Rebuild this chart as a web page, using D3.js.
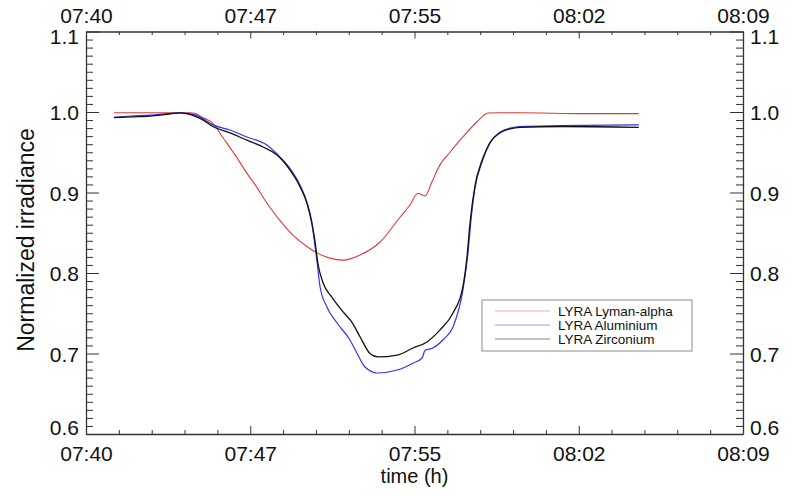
<!DOCTYPE html>
<html>
<head>
<meta charset="utf-8">
<script src="https://cdn.jsdelivr.net/npm/d3@7"></script>
<style>
  html, body { margin: 0; padding: 0; background: #fff; }
  svg { display: block; font-family: "Liberation Sans", Arial, Helvetica, sans-serif; }
</style>
</head>
<body>
<svg id="chart" width="792" height="496"></svg>
<script>
// LYRA normalized irradiance during the eclipse pass (UTC)
const lymanTimes = ["07:41:14","07:43:00","07:44:35","07:44:49","07:45:10","07:45:36","07:46:03","07:46:40","07:47:06","07:47:33","07:47:59","07:48:34","07:49:08","07:49:45","07:50:12","07:50:46","07:51:21","07:52:06","07:52:59","07:53:52","07:54:18","07:54:39","07:54:50","07:54:58","07:55:16","07:55:37","07:56:04","07:56:38","07:57:15","07:57:45","07:58:16","07:59:09","08:02:00","08:04:24"];
const lymanValues = [0.999,0.999,0.999,0.998,0.993,0.986,0.968,0.943,0.924,0.906,0.887,0.865,0.847,0.833,0.825,0.8185,0.816,0.8224,0.8385,0.8696,0.8845,0.899,0.897,0.8957,0.913,0.934,0.950,0.969,0.9876,0.9988,0.999,0.999,0.998,0.998];

const aluTimes = ["07:41:14","07:42:00","07:42:50","07:43:35","07:44:09","07:44:35","07:45:02","07:45:36","07:46:21","07:47:06","07:47:59","07:48:34","07:49:00","07:49:27","07:49:45","07:49:58","07:50:06","07:50:12","07:50:20","07:50:38","07:51:05","07:51:39","07:51:58","07:52:19","07:52:51","07:53:44","07:54:26","07:54:50","07:54:58","07:55:19","07:55:45","07:56:12","07:56:38","07:56:51","07:57:01","07:57:10","07:57:29","07:57:50","07:58:16","07:58:43","07:59:09","08:01:00","08:04:24"];
const aluValues = [0.9935,0.995,0.996,0.998,0.999,0.998,0.994,0.984,0.9776,0.969,0.959,0.944,0.930,0.909,0.888,0.8634,0.835,0.8137,0.7826,0.7578,0.7379,0.7168,0.700,0.6832,0.6758,0.6795,0.688,0.6944,0.704,0.7068,0.7168,0.733,0.778,0.822,0.872,0.905,0.938,0.962,0.975,0.980,0.982,0.983,0.984];

const zrTimes = ["07:41:14","07:42:00","07:42:50","07:43:35","07:44:09","07:44:35","07:45:02","07:45:36","07:46:21","07:47:06","07:47:49","07:48:26","07:49:00","07:49:27","07:49:45","07:49:58","07:50:06","07:50:14","07:50:28","07:50:51","07:51:21","07:51:44","07:52:06","07:52:32","07:52:53","07:53:44","07:54:26","07:55:03","07:55:37","07:56:12","07:56:38","07:56:49","07:56:57","07:57:10","07:57:29","07:57:50","07:58:16","07:58:43","07:59:09","08:01:00","08:04:24"];
const zrValues = [0.993,0.994,0.995,0.997,0.999,0.997,0.992,0.982,0.974,0.965,0.9565,0.9466,0.928,0.907,0.887,0.862,0.841,0.8124,0.7876,0.770,0.7516,0.739,0.7205,0.700,0.6957,0.698,0.7068,0.7143,0.729,0.7503,0.7826,0.820,0.862,0.908,0.940,0.962,0.974,0.979,0.981,0.982,0.981];

const seriesNames = ["LYRA Lyman-alpha", "LYRA Aluminium", "LYRA Zirconium"];

// Axis ticks
const xMajorTimes = ["07:40:00","07:47:15","07:54:30","08:01:45","08:09:00"];
const xTickLabels = ["07:40","07:47","07:55","08:02","08:09"];
const yMajorTicks = [0.6, 0.7, 0.8, 0.9, 1.0, 1.1];
const yTickLabels = ["0.6","0.7","0.8","0.9","1.0","1.1"];

const parseTime = d3.timeParse("%H:%M:%S");

const plotLeft = 86, plotRight = 743, plotTop = 31.5, plotBottom = 434;

const x = d3.scaleTime()
  .domain([parseTime(xMajorTimes[0]), parseTime(xMajorTimes[xMajorTimes.length - 1])])
  .range([plotLeft, plotRight]);
const y = d3.scaleLinear().domain([0.6, 1.1]).range([plotBottom, plotTop]);

const svg = d3.select("#chart");

// minor ticks: five per major interval on x, ten per major interval on y
const xMajor = xMajorTimes.map(parseTime);
const xMinor = [];
for (let i = 0; i < xMajor.length - 1; i++) {
  const a = +xMajor[i], b = +xMajor[i + 1];
  for (let k = 1; k < 5; k++) xMinor.push(new Date(a + (b - a) * k / 5));
}
const yMinor = [];
for (let i = 0; i < yMajorTicks.length - 1; i++) {
  for (let k = 1; k < 10; k++) yMinor.push(yMajorTicks[i] + 0.01 * k);
}

const axisColor = "#333";
const fontSize = 21;

function styleAxis(g) {
  g.select(".domain").attr("stroke", axisColor).attr("stroke-width", 1.3);
  g.selectAll(".tick line").attr("stroke", axisColor).attr("stroke-width", 1);
  g.selectAll(".tick text").attr("fill", "#111").attr("font-size", fontSize)
    .attr("font-family", "'Liberation Sans', Arial, Helvetica, sans-serif");
}

function minor(g) {
  g.select(".domain").remove();
  g.selectAll(".tick line").attr("stroke", axisColor).attr("stroke-width", 1);
}

// bottom
svg.append("g").attr("transform", `translate(0,${plotBottom})`)
  .call(d3.axisBottom(x).tickValues(xMinor).tickSize(-4).tickFormat(""))
  .call(minor);
svg.append("g").attr("transform", `translate(0,${plotBottom})`)
  .call(d3.axisBottom(x).tickValues(xMajor).tickSize(-8).tickSizeOuter(0)
    .tickFormat((d, i) => xTickLabels[i]))
  .call(styleAxis)
  .call(g => g.selectAll(".tick text").attr("y", 27).attr("dy", null));

// top
svg.append("g").attr("transform", `translate(0,${plotTop})`)
  .call(d3.axisTop(x).tickValues(xMinor).tickSize(-3.5).tickFormat(""))
  .call(minor);
svg.append("g").attr("transform", `translate(0,${plotTop})`)
  .call(d3.axisTop(x).tickValues(xMajor).tickSize(-7).tickSizeOuter(0)
    .tickFormat((d, i) => xTickLabels[i]))
  .call(styleAxis)
  .call(g => g.selectAll(".tick text").attr("y", -8.5).attr("dy", null));

// vertical label offset: extreme labels stay inside the frame height
const yLabelShift = (d, i) => i === 0 ? 0 : (i === yMajorTicks.length - 1 ? 12 : 7.5);

// left
svg.append("g").attr("transform", `translate(${plotLeft},0)`)
  .call(d3.axisLeft(y).tickValues(yMinor).tickSize(-7).tickFormat(""))
  .call(minor);
svg.append("g").attr("transform", `translate(${plotLeft},0)`)
  .call(d3.axisLeft(y).tickValues(yMajorTicks).tickSize(-13).tickSizeOuter(0)
    .tickFormat((d, i) => yTickLabels[i]))
  .call(styleAxis)
  .call(g => g.selectAll(".tick text").attr("x", -7).attr("dy", null).attr("y", yLabelShift));

// right
svg.append("g").attr("transform", `translate(${plotRight},0)`)
  .call(d3.axisRight(y).tickValues(yMinor).tickSize(-7).tickFormat(""))
  .call(minor);
svg.append("g").attr("transform", `translate(${plotRight},0)`)
  .call(d3.axisRight(y).tickValues(yMajorTicks).tickSize(-13).tickSizeOuter(0)
    .tickFormat((d, i) => yTickLabels[i]))
  .call(styleAxis)
  .call(g => g.selectAll(".tick text").attr("x", 7).attr("dy", null).attr("y", yLabelShift));

// axis titles
svg.append("text")
  .attr("x", (plotLeft + plotRight) / 2).attr("y", 483)
  .attr("text-anchor", "middle").attr("font-size", 20).attr("fill", "#111")
  .text("time (h)");
svg.append("text")
  .attr("transform", `translate(34,240) rotate(-90)`)
  .attr("text-anchor", "middle").attr("font-size", 23).attr("fill", "#111")
  .text("Normalized irradiance");

// data lines
const series = [
  { name: seriesNames[0], times: lymanTimes, values: lymanValues, color: "#e23a3a", legend: "#efa9a9", width: 1.1 },
  { name: seriesNames[1], times: aluTimes, values: aluValues, color: "#3434ee", legend: "#9e9ef3", width: 1.2 },
  { name: seriesNames[2], times: zrTimes, values: zrValues, color: "#111111", legend: "#8a8a8a", width: 1.3 }
];

const line = d3.line()
  .x(d => x(d.t))
  .y(d => y(d.v))
  .curve(d3.curveMonotoneX);

series.forEach(s => {
  const pts = s.times.map((t, i) => ({ t: parseTime(t), v: s.values[i] }));
  svg.append("path")
    .datum(pts)
    .attr("fill", "none")
    .attr("stroke", s.color)
    .attr("stroke-width", s.width)
    .attr("stroke-linejoin", "round")
    .attr("d", line);
});

// legend
const lg = svg.append("g").attr("transform", "translate(482,300)");
lg.append("rect").attr("x", 0).attr("y", 0).attr("width", 210).attr("height", 51)
  .attr("fill", "#fff").attr("stroke", "#8c8c8c").attr("stroke-width", 1);
series.forEach((s, i) => {
  const yy = 11 + i * 14;
  lg.append("line").attr("x1", 13).attr("x2", 68).attr("y1", yy).attr("y2", yy)
    .attr("stroke", s.legend).attr("stroke-width", 1);
  lg.append("text").attr("x", 76).attr("y", yy + 5)
    .attr("font-size", 13.5).attr("fill", "#111").text(s.name);
});
</script>
</body>
</html>
